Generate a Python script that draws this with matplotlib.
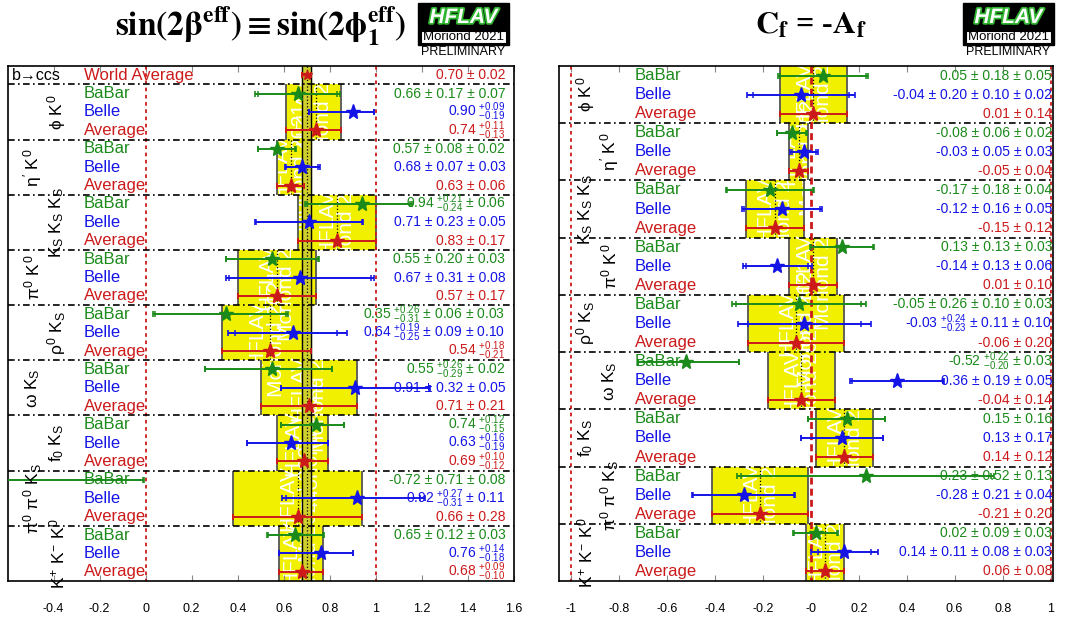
import numpy as np
import matplotlib.pyplot as plt
from matplotlib.patches import Rectangle
import matplotlib.patheffects as pe

plt.rcParams['font.family'] = ['Liberation Sans', 'DejaVu Sans']
plt.rcParams['mathtext.fontset'] = 'custom'
plt.rcParams['mathtext.rm'] = 'Liberation Sans'
plt.rcParams['mathtext.it'] = 'Liberation Sans'
plt.rcParams['mathtext.bf'] = 'Liberation Sans:bold'

GREEN, BLUE, RED = '#1a8a1a', '#1414e6', '#cc1a1a'
YEL, BAND = '#f0f000', '#cfcf2e'

modes = [r'$\phi\ K^{0}$', r"$\eta'\ K^{0}$", r'$K_{S}\ K_{S}\ K_{S}$',
         r'$\pi^{0}\ K^{0}$', r'$\rho^{0}\ K_{S}$', r'$\omega\ K_{S}$',
         r'$f_{0}\ K_{S}$', r'$\pi^{0}\ \pi^{0}\ K_{S}$', r'$K^{+}\ K^{-}\ K^{0}$']

# ---- sin(2beta_eff): value, total error low/high, stat error low/high
S_babar = [0.66, 0.57, 0.94, 0.55, 0.35, 0.55, 0.74, -0.72, 0.65]
S_babar_lo = [0.184, 0.083, 0.247, 0.202, 0.317, 0.291, 0.15, 0.715, 0.124]
S_babar_hi = [0.184, 0.083, 0.218, 0.202, 0.269, 0.261, 0.12, 0.715, 0.124]
S_babar_slo = [0.17, 0.08, 0.24, 0.20, 0.31, 0.29, 0.15, 0.71, 0.12]
S_babar_shi = [0.17, 0.08, 0.21, 0.20, 0.26, 0.26, 0.12, 0.71, 0.12]
S_babar_txt = ['0.66 ± 0.17 ± 0.07', '0.57 ± 0.08 ± 0.02',
               r'0.94 $^{+0.21}_{-0.24}$ ± 0.06', '0.55 ± 0.20 ± 0.03',
               r'0.35 $^{+0.26}_{-0.31}$ ± 0.06 ± 0.03', r'0.55 $^{+0.26}_{-0.29}$ ± 0.02',
               r'0.74 $^{+0.12}_{-0.15}$', '-0.72 ± 0.71 ± 0.08', '0.65 ± 0.12 ± 0.03']

S_belle = [0.90, 0.68, 0.71, 0.67, 0.64, 0.91, 0.63, 0.92, 0.76]
S_belle_lo = [0.19, 0.076, 0.235, 0.320, 0.284, 0.324, 0.19, 0.329, 0.18]
S_belle_hi = [0.09, 0.076, 0.235, 0.320, 0.233, 0.324, 0.16, 0.292, 0.14]
S_belle_slo = [0.19, 0.07, 0.23, 0.31, 0.25, 0.32, 0.19, 0.31, 0.18]
S_belle_shi = [0.09, 0.07, 0.23, 0.31, 0.19, 0.32, 0.16, 0.27, 0.14]
S_belle_txt = [r'0.90 $^{+0.09}_{-0.19}$', '0.68 ± 0.07 ± 0.03',
               '0.71 ± 0.23 ± 0.05', '0.67 ± 0.31 ± 0.08',
               r'0.64 $^{+0.19}_{-0.25}$ ± 0.09 ± 0.10', '0.91 ± 0.32 ± 0.05',
               r'0.63 $^{+0.16}_{-0.19}$', r'0.92 $^{+0.27}_{-0.31}$ ± 0.11',
               r'0.76 $^{+0.14}_{-0.18}$']

S_avg = [0.74, 0.63, 0.83, 0.57, 0.54, 0.71, 0.69, 0.66, 0.68]
S_avg_lo = [0.13, 0.06, 0.17, 0.17, 0.21, 0.21, 0.12, 0.28, 0.10]
S_avg_hi = [0.11, 0.06, 0.17, 0.17, 0.18, 0.21, 0.10, 0.28, 0.09]
S_avg_txt = [r'0.74 $^{+0.11}_{-0.13}$', '0.63 ± 0.06', '0.83 ± 0.17',
             '0.57 ± 0.17', r'0.54 $^{+0.18}_{-0.21}$', '0.71 ± 0.21',
             r'0.69 $^{+0.10}_{-0.12}$', '0.66 ± 0.28', r'0.68 $^{+0.09}_{-0.10}$']

wa_val, wa_err = 0.70, 0.02

# ---- C_f = -A_f
C_babar = [0.05, -0.08, -0.17, 0.13, -0.05, -0.52, 0.15, 0.23, 0.02]
C_babar_lo = [0.187, 0.063, 0.184, 0.133, 0.280, 0.202, 0.16, 0.536, 0.095]
C_babar_hi = [0.187, 0.063, 0.184, 0.133, 0.280, 0.222, 0.16, 0.536, 0.095]
C_babar_slo = [0.18, 0.06, 0.18, 0.13, 0.26, 0.20, 0.16, 0.52, 0.09]
C_babar_shi = [0.18, 0.06, 0.18, 0.13, 0.26, 0.22, 0.16, 0.52, 0.09]
C_babar_txt = ['0.05 ± 0.18 ± 0.05', '-0.08 ± 0.06 ± 0.02',
               '-0.17 ± 0.18 ± 0.04', '0.13 ± 0.13 ± 0.03',
               '-0.05 ± 0.26 ± 0.10 ± 0.03', r'-0.52 $^{+0.22}_{-0.20}$ ± 0.03',
               '0.15 ± 0.16', '0.23 ± 0.52 ± 0.13', '0.02 ± 0.09 ± 0.03']

C_belle = [-0.04, -0.03, -0.12, -0.14, -0.03, 0.36, 0.13, -0.28, 0.14]
C_belle_lo = [0.225, 0.058, 0.168, 0.143, 0.274, 0.197, 0.17, 0.214, 0.139]
C_belle_hi = [0.225, 0.058, 0.168, 0.143, 0.282, 0.197, 0.17, 0.214, 0.139]
C_belle_slo = [0.20, 0.05, 0.16, 0.13, 0.23, 0.19, 0.17, 0.21, 0.11]
C_belle_shi = [0.20, 0.05, 0.16, 0.13, 0.24, 0.19, 0.17, 0.21, 0.11]
C_belle_txt = ['-0.04 ± 0.20 ± 0.10 ± 0.02', '-0.03 ± 0.05 ± 0.03',
               '-0.12 ± 0.16 ± 0.05', '-0.14 ± 0.13 ± 0.06',
               r'-0.03 $^{+0.24}_{-0.23}$ ± 0.11 ± 0.10', '0.36 ± 0.19 ± 0.05',
               '0.13 ± 0.17', '-0.28 ± 0.21 ± 0.04',
               '0.14 ± 0.11 ± 0.08 ± 0.03']

C_avg = [0.01, -0.05, -0.15, 0.01, -0.06, -0.04, 0.14, -0.21, 0.06]
C_avg_err = [0.14, 0.04, 0.12, 0.10, 0.20, 0.14, 0.12, 0.20, 0.08]
C_avg_txt = ['0.01 ± 0.14', '-0.05 ± 0.04', '-0.15 ± 0.12',
             '0.01 ± 0.10', '-0.06 ± 0.20', '-0.04 ± 0.14',
             '0.14 ± 0.12', '-0.21 ± 0.20', '0.06 ± 0.08']

W, H = 1068, 624
fig = plt.figure(figsize=(W / 100, H / 100), dpi=100)


def px_axes(x0, y0, x1, y1, **kw):
    return fig.add_axes([x0 / W, 1 - y1 / H, (x1 - x0) / W, (y1 - y0) / H], **kw)


def point(ax, y, v, lo, hi, slo, shi, c, ms=11):
    ax.errorbar([v], [y], xerr=[[lo], [hi]], fmt='none', ecolor=c, elinewidth=1.4,
                capsize=2.5, capthick=1.2, zorder=4)
    ax.plot([v - slo, v + shi], [y, y], '|', color=c, ms=5, mew=1.1, zorder=4)
    ax.plot([v], [y], '*', color=c, ms=ms, zorder=5)


def panel(ax, xlim, nrow, off, lab_x, txt_x, mode_xs, ticks, rows):
    ax.set_xlim(*xlim)
    ax.set_ylim(nrow, 0)
    for i, (name, series, avg) in enumerate(rows):
        top = off + 3 * i
        a, alo, ahi = avg
        rect = Rectangle((a - alo, top), alo + ahi, 3, fc=YEL, ec='none', zorder=1)
        ax.add_patch(rect)
        ax.vlines([a - alo, a + ahi], top, top + 3, color='#555555', lw=1.3, zorder=1.2)
        ax.vlines(a, top, top + 3, color='k', lw=0.9, ls=':', zorder=1.3)
        wm = ax.text(a - alo + (alo + ahi) / 2, top + 1.5, 'HFLAV\nMoriond 2021',
                     rotation=90, color='white', fontsize=15, ha='center', va='center',
                     linespacing=1.05, zorder=1.1)
        wm.set_clip_path(rect)
        if top > 0:
            ax.axhline(top, color='k', lw=1.2, ls=(0, (4, 2, 1, 2)), zorder=3)
        ax.text(mode_xs[i % 2], top + 1.5, name, rotation=90, fontsize=12.5,
                ha='center', va='center', zorder=6)
        for k, (lab, c, v, lo, hi, slo, shi, txt) in enumerate(series):
            y = top + k + 0.5
            point(ax, y, v, lo, hi, slo, shi, c)
            ax.text(lab_x, y, lab, color=c, fontsize=12, va='center', zorder=6)
            ax.text(txt_x, y, txt, color=c, fontsize=10, ha='right', va='center',
                    zorder=6, clip_on=False)
    ax.set_yticks([])
    ax.set_xticks(ticks)
    ax.set_xticklabels(['%g' % t for t in ticks])
    ax.tick_params(axis='x', direction='in', top=True, length=4, width=0.8,
                   color='#888888', labelsize=9, pad=16)
    for s in ax.spines.values():
        s.set_linewidth(1.2)


# ---------------- left panel
axL = px_axes(7.5, 66, 514, 581)
rowsL = []
for i in range(len(modes)):
    rowsL.append((modes[i], [
        ('BaBar', GREEN, S_babar[i], S_babar_lo[i], S_babar_hi[i], S_babar_slo[i], S_babar_shi[i], S_babar_txt[i]),
        ('Belle', BLUE, S_belle[i], S_belle_lo[i], S_belle_hi[i], S_belle_slo[i], S_belle_shi[i], S_belle_txt[i]),
        ('Average', RED, S_avg[i], S_avg_lo[i], S_avg_hi[i], S_avg_lo[i], S_avg_hi[i], S_avg_txt[i]),
    ], (S_avg[i], S_avg_lo[i], S_avg_hi[i])))
panel(axL, (-0.6, 1.6), 28, 1, -0.268, 1.562, (-0.385, -0.49),
      np.round(np.arange(-0.4, 1.61, 0.2), 1), rowsL)
axL.axvspan(wa_val - wa_err, wa_val + wa_err, color=BAND, zorder=2)
axL.vlines([wa_val - wa_err, wa_val + wa_err], 0, 28, color='k', lw=1.0, zorder=2.1)
axL.vlines(wa_val, 0, 28, color='k', lw=0.9, ls=':', zorder=2.1)
axL.vlines([0, 1], 0, 28, color=RED, lw=1.3, ls=(0, (2, 2)), zorder=2.5)
axL.text(-0.58, 0.5, 'b→ccs', fontsize=11.5, va='center')
axL.text(-0.268, 0.5, 'World Average', color=RED, fontsize=12, va='center')
axL.text(1.562, 0.5, '0.70 ± 0.02', color=RED, fontsize=10, ha='right', va='center')
point(axL, 0.5, wa_val, wa_err, wa_err, wa_err, wa_err, RED, ms=7)

# ---------------- right panel
axR = px_axes(559, 66, 1053, 581)
rowsR = []
for i in range(len(modes)):
    rowsR.append((modes[i], [
        ('BaBar', GREEN, C_babar[i], C_babar_lo[i], C_babar_hi[i], C_babar_slo[i], C_babar_shi[i], C_babar_txt[i]),
        ('Belle', BLUE, C_belle[i], C_belle_lo[i], C_belle_hi[i], C_belle_slo[i], C_belle_shi[i], C_belle_txt[i]),
        ('Average', RED, C_avg[i], C_avg_err[i], C_avg_err[i], C_avg_err[i], C_avg_err[i], C_avg_txt[i]),
    ], (C_avg[i], C_avg_err[i], C_avg_err[i])))
panel(axR, (-1.05, 1.01), 27, 0, -0.733, 1.006, (-0.94, -0.84),
      np.round(np.arange(-1.0, 1.01, 0.2), 1), rowsR)
axR.vlines([-1, 1], 0, 27, color=RED, lw=1.3, ls=(0, (2, 2)), zorder=2.5)
axR.vlines(0, 0, 27, color=RED, lw=2.0, ls=(0, (2.5, 1.5)), zorder=2.5)

# ---------------- titles and logos
axo = px_axes(0, 0, W, H, zorder=-1)
axo.set_xlim(0, W)
axo.set_ylim(H, 0)
axo.axis('off')
axo.text(261, 36, r'$\mathbf{sin(2\beta^{eff}) \equiv sin(2\phi_{1}^{eff})}$',
         math_fontfamily='stix', fontsize=24, ha='center', va='baseline')
axo.text(811, 33, r'$\mathbf{C_{f}}$ = -$\mathbf{A_{f}}$', math_fontfamily='stix',
         family='Liberation Serif', fontweight='bold', fontsize=23,
         ha='center', va='baseline')


def logo(x0):
    axo.add_patch(Rectangle((x0, 3), 91, 42, fc='black', ec='black'))
    axo.add_patch(Rectangle((x0 + 3, 31), 85, 12, fc='white', ec='black', lw=0.8))
    axo.text(x0 + 45.5, 17.5, 'HFLAV', color='white', fontsize=15, fontweight='bold',
             style='italic', ha='center', va='center',
             path_effects=[pe.withStroke(linewidth=2.5, foreground='#2fb52f')])
    axo.text(x0 + 45.5, 37.5, 'Moriond 2021', fontsize=9.5, ha='center', va='center')
    axo.text(x0 + 45.5, 52, 'PRELIMINARY', fontsize=9, ha='center', va='center')


logo(418)
logo(963)

fig.savefig('out.png', dpi=100)
